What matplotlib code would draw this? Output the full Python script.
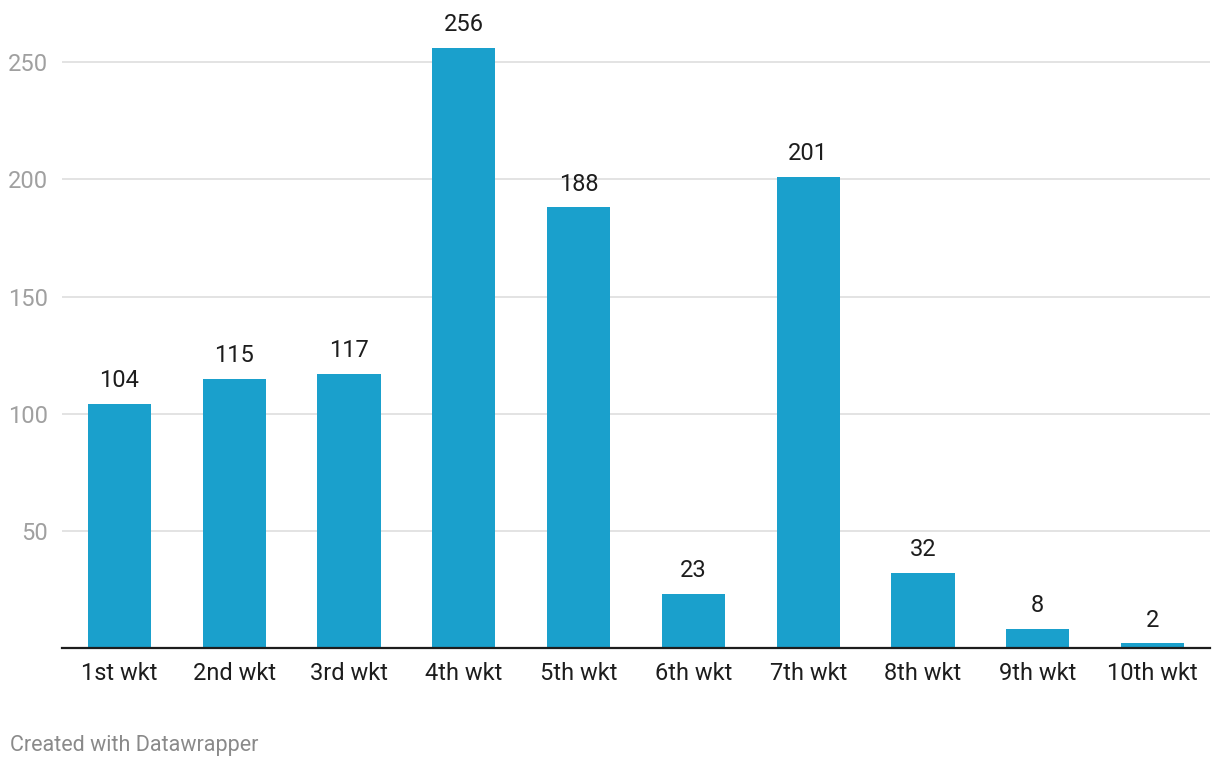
import matplotlib
matplotlib.use("Agg")
import matplotlib.pyplot as plt

# data
wickets = ["1st wkt", "2nd wkt", "3rd wkt", "4th wkt", "5th wkt",
           "6th wkt", "7th wkt", "8th wkt", "9th wkt", "10th wkt"]
runs = [104, 115, 117, 256, 188, 23, 201, 32, 8, 2]
yticks = [50, 100, 150, 200, 250]

plt.rcParams["font.family"] = ["Roboto", "DejaVu Sans"]

fig = plt.figure(figsize=(12.2, 7.68), dpi=100)
ax = fig.add_axes([62 / 1220, 1 - 648 / 768, 1148 / 1220, 628 / 768])

x = range(len(wickets))
ax.bar(x, runs, width=0.55, color="#1aa0cc", zorder=2)

for xi, v in zip(x, runs):
    ax.annotate(str(v), (xi, v), xytext=(0, 8.5), textcoords="offset points",
                ha="center", va="bottom", fontsize=17, color="#1d1d1d")

ax.set_xlim(-0.5, len(wickets) - 0.5)
ax.set_ylim(0, 268)
ax.set_yticks(yticks)
ax.set_xticks(list(x))
ax.set_xticklabels(wickets)
ax.grid(axis="y", color="#e0e0e0", linewidth=1.3, zorder=0)

for s in ["top", "right", "left"]:
    ax.spines[s].set_visible(False)
ax.spines["bottom"].set_color("#1d1d1d")
ax.spines["bottom"].set_linewidth(1.6)
ax.spines["bottom"].set_zorder(3)

ax.tick_params(axis="y", length=0, pad=10, labelsize=17, labelcolor="#a0a0a0")
ax.tick_params(axis="x", length=0, pad=10, labelsize=17, labelcolor="#1d1d1d")

fig.text(10 / 1220, 1 - 745 / 768, "Created with Datawrapper", fontsize=15.5,
         color="#8a8a8a", ha="left", va="center")

fig.savefig("out.png", dpi=100)
